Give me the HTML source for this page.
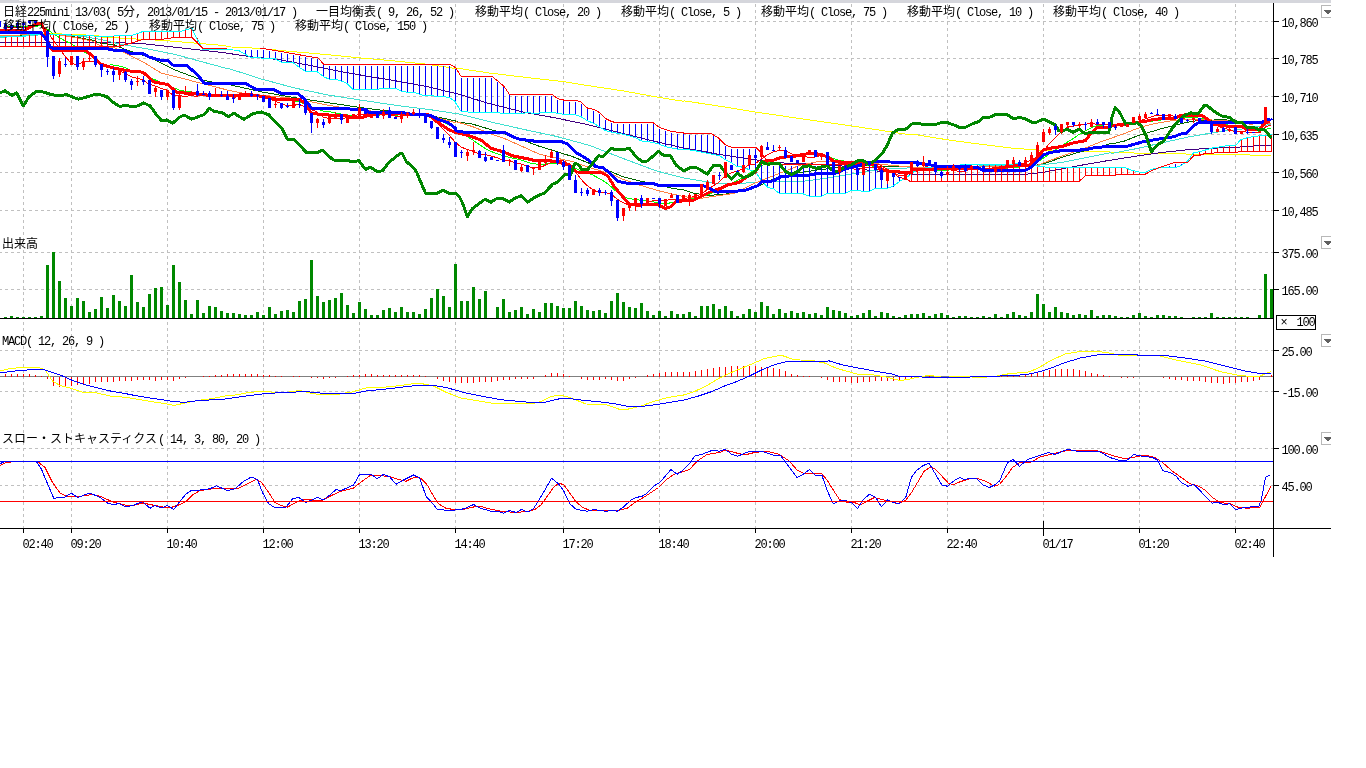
<!DOCTYPE html><html><head><meta charset="utf-8"><title>Nikkei 225 mini chart</title><style>html,body{margin:0;padding:0;background:#fff;width:1366px;height:768px;overflow:hidden}svg{display:block;position:absolute;left:0;top:0;will-change:transform}.t{font-family:"Liberation Mono",monospace;font-size:12px;letter-spacing:-1.2px;white-space:pre}.j{font-family:"Liberation Mono","Noto Sans CJK JP",monospace;letter-spacing:0}</style></head><body><svg width="1366" height="768" viewBox="0 0 1366 768" shape-rendering="crispEdges">
<rect x="0" y="0" width="1331" height="3" fill="#d5d6dc"/><rect x="19" y="0" width="81" height="1" fill="#f3f3f5"/>
<g stroke="#c0c0c0" stroke-width="1" stroke-dasharray="3 3" fill="none">
<path d="M-1 21.5H1273"/>
<path d="M-1 58.5H1273"/>
<path d="M-1 96.5H1273"/>
<path d="M-1 134.5H1273"/>
<path d="M-1 172.5H1273"/>
<path d="M-1 210.5H1273"/>
<path d="M-1 252.5H1273"/>
<path d="M-1 289.5H1273"/>
<path d="M-1 350.5H1273"/>
<path d="M-1 391.5H1273"/>
<path d="M-1 448.5H1273"/>
<path d="M-1 485.5H1273"/>
<path d="M23.5 4V528"/>
<path d="M71.5 4V528"/>
<path d="M167.5 4V528"/>
<path d="M263.5 4V528"/>
<path d="M359.5 4V528"/>
<path d="M455.5 4V528"/>
<path d="M563.5 4V528"/>
<path d="M659.5 4V528"/>
<path d="M755.5 4V528"/>
<path d="M851.5 4V528"/>
<path d="M947.5 4V528"/>
<path d="M1043.5 4V528"/>
<path d="M1139.5 4V528"/>
<path d="M1235.5 4V528"/>
</g>
<polyline points="0,33 50,33.5 67,34.2 98,35.5 100,36.9 131,38.75 162.5,40.4 194,43 225,45.6 228,46.83 261.33,48.5 294.67,51.83 328,54.67 361.33,58 394.67,61 428,64.33 455.67,68.5 456,68 489.33,73 522.67,77 563.5,81.67 589.33,85.83 622.67,90.83 659.33,97.5 683.67,101.33 684,100.83 717.33,105.83 755.33,112 800.67,118.67 851.17,125.83 884,130.83 911.67,135 912,134 947.5,139.83 978.67,144 1012,148.17 1043.33,150.33 1078.67,151 1110.33,152 1112,152.25 1130.75,152.5 1137,153.5 1184.5,153.5 1187,154.5 1249.5,154.5 1250.75,155.38 1270.75,155.38" fill="none" stroke="#ff0" stroke-width="1" />
<polyline points="0,42.5 100,42.5 125,43 144,43.75 175,47.25 200,50 225,52.75 228,53.33 251.33,56.83 278,59.5 311.33,65.67 344.67,72.33 371.33,76.83 394.67,80.67 428,86.83 455.67,93.5 456,93.33 489.33,103.67 522.67,112 556,118 589.33,125 622.67,133.33 656,141.67 683.67,148 684,148.33 700.67,150.83 717.33,154.17 734,156.67 750.67,159.17 762.33,160.83 784,163 817.33,164.17 850.67,166.67 867.33,170 884,171.67 910.67,174.17 912,174.83 962,174.83 1020.33,174.83 1043.33,172.33 1078.67,165.67 1110.33,160.17 1112,160 1137,156 1162,152.5 1187,149.75 1212,148.25 1237,147.25 1262,145.38 1272,145" fill="none" stroke="#400080" stroke-width="1" />
<polyline points="0,36 53,34.2 75,37 92,40 100,43.1 114,44.75 125,49.4 150,57.5 175,70 200,79.4 225,85 228,84.33 261.33,91.83 294.67,97.67 328,102.67 361.33,107.67 394.67,111.83 428,115.17 444.67,118.5 455.67,121 456,121.67 472.67,124.17 489.33,129.17 506,134.17 522.67,140 539.33,146.33 556,151.33 572.67,156.67 589.33,163.33 606,170 611,171.67 622.67,176.67 639.33,180.83 656,184.17 672.67,188.33 683.67,190 694,193.33 709,195.33 725.67,194.17 742.33,190.83 755.67,187.5 767.33,181.67 777.33,177.5 800.67,172.5 817.33,170 834,168 850.67,166.67 867.33,165.83 884,166.17 910.67,167 912,167.33 1028.67,166.5 1043.33,164 1062,157.33 1078.67,152.33 1095.33,148.17 1110.33,143.67 1112,144.12 1124.5,141 1137,136 1149.5,132.25 1162,128.5 1174.5,125.38 1187,122.25 1199.5,120.38 1224.5,119.75 1249.5,122.25 1270.75,123.5" fill="none" stroke="#006400" stroke-width="1" />
<polyline points="0,37.5 53,34 83,36.4 100,39.4 114,42.7 125,45 150,49.4 175,54.4 200,61.25 225,68 228,68.33 261.33,79 294.67,88 328,95 361.33,100.17 394.67,105.17 428,109.33 455.67,113.5 456,113.33 489.33,121.67 522.67,129.17 556,136.33 589.33,145.33 622.67,158.33 656,170.83 683.7,178 700.67,180.83 717.33,183.33 734,184.17 750.67,182.5 764,181.67 784,182 804,181.17 825.67,178.33 851.17,174.17 867.33,171.33 884,169.17 910.67,167.83 912,168.17 978.67,166 1028.67,165.67 1043.33,164.83 1062,162.33 1078.67,159 1110.33,152.67 1112,153.5 1137,148.5 1162,142.88 1187,137.25 1212,132.88 1224.5,131 1237,129.75 1262,126 1270.75,124.12" fill="none" stroke="#40e0d0" stroke-width="1" />
<polyline points="5,26.4 11,26.7 17,26.95 23,26.85 29,26.52 35,26.19 41,25.79 47,28.87 53,33.87 59,37.3 65,40.91 71,43.61 77,47.45 83,51.05 89,54.59 95,58.79 101,63.57 107,65.05 113,64.95 119,65.95 125,67.43 131,70.33 137,71.71 143,73.78 149,77.38 155,79.74 161,82.43 167,84.23 173,87.57 179,89.94 185,91.19 191,91.88 197,93.32 203,94.63 209,94.9 215,95.44 221,95.42 227,96.42 233,95.53 239,95.53 245,95.65 251,96.03 257,96.15 263,96.92 269,97.99 275,98.96 281,100.08 287,100.85 293,100.93 299,101.91 305,103.8 311,106.51 317,108.82 323,111.08 329,111.68 335,112.77 341,114.02 347,114.88 353,116.3 359,116.67 365,116.75 371,115.83 377,115.67 383,114.33 389,114.75 395,115.25 401,114.67 407,114.37 413,114.12 419,114.7 425,115.62 431,117.03 437,119.2 443,122.03 449,124.78 455,128.58 461,132.45 467,136.32 473,140.13 479,144.45 485,148.27 491,151.5 497,153.6 503,155.83 509,157.3 515,158.6 521,159.97 527,162.05 533,163.87 539,164.2 545,164.03 551,163.2 557,163.5 563,163.92 569,165.93 575,168.23 581,170.87 587,173.03 593,175.13 599,178.38 605,181.77 611,186.68 617,192.18 623,196.35 629,198.77 635,199.27 641,200.38 647,200.8 653,201.75 659,202.83 665,203.45 671,202.87 677,201.37 683,200.03 689,199.12 695,198.7 701,196.7 707,195.03 713,192.67 719,189.88 725,186.17 731,183.67 737,180.5 743,177.53 749,173.55 755,169.91 761,166.14 767,163.03 773,160.57 779,157.65 785,157.23 791,156.44 797,155.55 803,154.36 809,153.86 815,153.8 821,154.61 827,156.09 833,158.31 839,160.25 845,161.25 851,161.79 857,163.04 863,163.97 869,165.41 875,166.72 881,169.29 887,169.97 893,170.41 899,171.6 905,172.04 911,171.52 917,170.56 923,170.52 929,170.46 935,170.67 941,170.29 947,170.31 953,169.25 959,168.35 965,168.2 971,168.62 977,168.95 983,169.95 989,170.7 995,170.2 1001,169.28 1007,168.08 1013,167.42 1019,167.13 1025,166.05 1031,164.88 1037,162.47 1043,158.43 1049,154.15 1055,150.4 1061,146.07 1067,142.27 1073,138.77 1079,134.52 1085,131.07 1091,127.82 1097,125.73 1103,125.02 1109,124.92 1115,124.7 1121,124.71 1127,124.83 1133,124.07 1139,123.27 1145,122.08 1151,121.26 1157,120.34 1163,119.8 1169,118.45 1175,117.6 1181,117.47 1187,117.25 1193,117.38 1199,118.12 1205,119.19 1211,121 1217,122.44 1223,123.71 1229,125.28 1235,126.81 1241,127.69 1247,128.82 1253,130.22 1259,131.07 1265,129.39 1271,128.16" fill="none" stroke="#0f0" stroke-width="1" />
<polyline points="5,26.8 11,27.4 17,27.9 23,27.7 29,26.84 35,25.58 41,24.18 47,29.85 53,40.05 59,47.76 65,56.25 71,63.05 77,65.05 83,62.05 89,61.42 95,61.33 101,64.08 107,65.05 113,67.85 119,70.48 125,73.53 131,76.58 137,78.38 143,79.7 149,84.28 155,85.95 161,88.28 167,90.09 173,95.43 179,95.6 185,96.43 191,95.47 197,96.54 203,93.83 209,94.2 215,94.45 221,95.38 227,96.3 233,97.22 239,96.85 245,96.85 251,96.67 257,96 263,96.62 269,99.12 275,101.08 281,103.48 287,105.7 293,105.23 299,104.7 305,106.53 311,109.53 317,111.93 323,116.93 329,118.67 335,119 341,118.5 347,117.83 353,115.67 359,114.67 365,114.5 371,113.17 377,113.5 383,113 389,114.83 395,116 401,116.17 407,115.23 413,115.23 419,114.57 425,115.23 431,117.9 437,123.17 443,128.83 449,135 455,141.93 461,147 467,149.47 473,151.43 479,153.9 485,154.6 491,156 497,157.73 503,160.23 509,160.7 515,162.6 521,163.93 527,166.37 533,167.5 539,167.7 545,165.47 551,162.47 557,160.63 563,160.33 569,164.17 575,171 581,179.27 587,185.43 593,189.93 599,192.6 605,192.53 611,194.1 617,198.93 623,202.77 629,204.93 635,206 641,206.67 647,202.67 653,200.73 659,200.73 665,200.9 671,199.07 677,200.07 683,199.33 689,197.5 695,196.5 701,194.33 707,190 713,186 719,182.27 725,175.83 731,173 737,171 743,169.05 749,164.83 755,163.98 761,159.28 767,155.05 773,152.1 779,150.47 785,150.47 791,153.6 797,156.05 803,156.62 809,157.25 815,157.12 821,155.62 827,156.12 833,160 839,163.25 845,165.38 851,167.95 857,169.95 863,167.95 869,167.57 875,168.07 881,170.62 887,170 893,172.88 899,175.62 905,176 911,172.42 917,171.12 923,168.17 929,165.29 935,165.33 941,168.17 947,169.5 953,170.33 959,171.4 965,171.07 971,169.07 977,168.4 983,169.57 989,170 995,169.33 1001,169.5 1007,167.77 1013,165.27 1019,164.27 1025,162.77 1031,160.27 1037,157.17 1043,151.6 1049,144.03 1055,138.03 1061,131.87 1067,127.37 1073,125.93 1079,125 1085,124.1 1091,123.77 1097,124.1 1103,124.1 1109,124.83 1115,125.29 1121,125.65 1127,125.55 1133,124.03 1139,121.7 1145,118.88 1151,116.88 1157,115.12 1163,115.58 1169,115.2 1175,116.33 1181,118.08 1187,119.38 1193,119.17 1199,121.05 1205,122.05 1211,123.92 1217,125.5 1223,128.25 1229,129.5 1235,131.57 1241,131.45 1247,132.15 1253,132.2 1259,132.65 1265,127.2 1271,124.88" fill="none" stroke="#f00" stroke-width="1" />
<polyline points="0,35.6 53,34 75,37.7 92,41 100,45.6 114,47.7 125,53 144,62.5 161,73 181,78 200,83 225,89.4 228,90.17 244.67,93.5 261.33,95.17 294.67,98.5 311.33,101.83 328,105.17 344.67,108 361.33,110.17 394.67,113 428,115.17 455.67,122.67 456,121.67 472.67,126.67 489.33,133.33 506,139.17 522.67,146.67 539.33,154.17 556,158 572.67,161.67 589.33,167.5 606,172.5 612.67,174.17 622.67,179.17 639.33,185 656,190 669.33,193.33 683.67,196.67 700.67,198.33 717.33,195.83 734,193.33 750.67,185 762.33,180 777.33,174.17 800.67,165 817.33,161.67 834,161.67 850.67,162.5 867.33,162.5 884,164.67 910.67,167 912,167.33 1028.67,166.5 1038.67,164.83 1053.67,159 1070.33,153.17 1087,147.33 1103.67,140.67 1111.17,138.17 1112,137.88 1124.5,133.5 1137,128.5 1149.5,124.75 1162,122.25 1174.5,120.38 1187,119.75 1212,120 1237,121.62 1249.5,124.12 1270.75,123.5" fill="none" stroke="#ff8040" stroke-width="1" />
<path d="M5.5 36V47M11.5 36V47M17.5 36V47M23.5 36V47M29.5 34V47M35.5 34V47M41.5 34V47M47.5 34V47M53.5 34V47M59.5 34V47M65.5 34V47M71.5 34V47M77.5 35V47M83.5 35V47M89.5 35V47M95.5 36V47M101.5 36V47M107.5 36V47M113.5 36V47M119.5 35V47M125.5 35V45M131.5 35V44M137.5 33V42M143.5 31V40M149.5 31V40M155.5 31V40M161.5 31V40M167.5 31V39M173.5 31V38M179.5 31V38M185.5 30V38M191.5 28V38M197.5 38V43M911.5 173V182M917.5 170V182M923.5 168V182M929.5 167V182M935.5 166V182M941.5 165V182M947.5 165V182M953.5 165V182M959.5 165V182M965.5 164V182M971.5 164V182M977.5 164V182M983.5 164V182M989.5 164V182M995.5 164V182M1001.5 164V182M1007.5 164V182M1013.5 164V182M1019.5 163V182M1025.5 164V182M1031.5 165V182M1037.5 166V182M1043.5 166V182M1049.5 167V182M1055.5 167V182M1061.5 167V182M1067.5 167V182M1073.5 167V182M1079.5 167V182M1085.5 167V176M1091.5 167V176M1097.5 167V176M1103.5 167V176M1109.5 167V176M1115.5 167V176M1121.5 167V175M1127.5 168V175M1133.5 170V175M1139.5 172V175M1145.5 172V175M1193.5 153V157M1199.5 151V156M1205.5 150V154M1211.5 148V154M1217.5 147V153M1223.5 146V153M1229.5 145V153M1235.5 145V153M1241.5 139V152M1247.5 137V152M1253.5 136V152M1259.5 135V152M1265.5 135V152M1271.5 134V152" stroke="#f00" stroke-width="1" fill="none"/>
<path d="M245.5 50V55M251.5 50V58M257.5 50V58M263.5 50V59M269.5 51V59M275.5 52V59M281.5 53V63M287.5 54V63M293.5 55V63M299.5 56V68M305.5 57V72M311.5 58V72M317.5 59V72M323.5 65V77M329.5 66V80M335.5 66V80M341.5 66V81M347.5 66V84M353.5 66V90M359.5 66V90M365.5 66V90M371.5 66V90M377.5 66V90M383.5 66V89M389.5 66V89M395.5 66V89M401.5 66V91M407.5 66V93M413.5 66V93M419.5 66V95M425.5 66V96M431.5 66V96M437.5 66V97M443.5 66V97M449.5 66V98M455.5 69V102M461.5 78V112M467.5 78V112M473.5 78V113M479.5 78V113M485.5 78V113M491.5 78V113M497.5 82V113M503.5 87V114M509.5 95V114M515.5 96V114M521.5 96V114M527.5 96V113M533.5 96V114M539.5 96V114M545.5 96V113M551.5 96V113M557.5 100V114M563.5 101V115M569.5 102V115M575.5 102V115M581.5 104V117M587.5 109V121M593.5 111V124M599.5 114V127M605.5 120V131M611.5 123V132M617.5 124V134M623.5 124V135M629.5 124V136M635.5 124V138M641.5 124V141M647.5 124V142M653.5 124V143M659.5 129V145M665.5 131V147M671.5 133V148M677.5 134V150M683.5 134V150M689.5 135V150M695.5 135V151M701.5 135V152M707.5 135V154M713.5 136V155M719.5 140V156M725.5 146V160M731.5 149V163M737.5 149V167M743.5 149V168M749.5 149V170M755.5 149V172M761.5 154V180M767.5 163V187M773.5 166V189M779.5 166V194M785.5 166V194M791.5 166V194M797.5 166V194M803.5 166V194M809.5 166V197M815.5 166V197M821.5 166V197M827.5 166V194M833.5 166V194M839.5 166V194M845.5 166V194M851.5 166V191M857.5 166V191M863.5 166V192M869.5 166V192M875.5 166V189M881.5 167V189M887.5 171V189M893.5 174V187M899.5 179V182M1169.5 166V168M1175.5 164V168M1181.5 164V166" stroke="#00f" stroke-width="1" fill="none"/>
<polyline points="0,37 25,36.5 28,34 55,34.3 100,36.25 114,36 131.25,35.6 143,31.5 180,31.5 192,28.1 195,35 203,49.4 228,49.8 238,50.17 251.33,57.67 274.67,58.5 281.33,62.33 293,62.67 299.67,67.67 305.5,71.33 317.17,71.83 323.83,76.83 329.67,79.33 335.5,79.33 341.33,81 347.17,83.5 353,89.33 359.67,89.67 371.33,89.67 378,89.33 383,88.17 394.67,88.17 401.33,91 407.17,92.17 413,92.17 419.67,94.33 424.67,95.67 443,96.33 449.67,97.67 455.67,101.83 456,103.33 461,111.33 472.67,112.5 497.67,112.5 504.33,113.83 521,113.83 527.67,112.5 533.5,113.33 539.33,113 545.17,112 551.83,112 557.67,113.33 563.5,114.17 575.17,114.67 581,116.67 587.67,120.83 593.5,123.33 599.33,126.67 605.17,130.5 611.83,132.17 622.67,134.17 635.17,137.5 641,140.83 653.5,142.5 659.33,144.17 665.17,146.67 677.67,149.17 683.67,150 684,149.17 695.67,150.83 707.33,153.33 719.83,155.83 725.67,160 732.33,163.33 737.33,166.67 740,166.5 747.5,169 755.62,172.12 761.25,180.25 767.5,187.12 773.75,189 779.38,193.38 802.5,193.62 809.38,196.25 821.25,196.25 827.5,193.38 845.62,193.38 851.25,190.25 857.5,190.25 863.12,191.5 869.38,191.5 875,188.38 887.5,188.38 893.5,185.88 899.38,181.5 905,178.38 910.75,174.62 911.25,173.12 917.5,170 927.5,167.5 947.5,165.25 980,164.62 1005,165 1017.5,163.75 1030,165 1042.5,166.88 1045.33,167 1078.67,167 1108.67,167 1110,167.4 1124,167.4 1127.8,168.8 1133.4,170.7 1139,172.1 1145.6,172.1 1151.2,169.3 1156.9,168.3 1162.5,167.4 1175.6,167.4 1180.3,166 1187.8,160.8 1193.4,152.9 1200,151.5 1205.6,150 1211.2,148.2 1217.8,147.2 1229,145.4 1235.6,145.4 1240.75,139.75 1247,137.88 1253.25,136.38 1262,135.75 1272,134.5" fill="none" stroke="#0ff" stroke-width="1" />
<polyline points="0,46.8 118.75,46.5 131.25,43.1 143,39.4 162.5,39.4 165,38.75 175,37.5 192,37.5 203,48.5 228,48 259.67,48 278,51 294.67,54 318,58 323.83,64.33 449.67,64.33 455.67,67.67 456,68.33 461,76.33 491.83,76.33 497.67,80.83 504.33,86.67 509.33,94.17 551.83,94.17 557.67,98.67 563.5,100 575.17,100 581,102 587.67,108.33 593.5,109.17 599.33,112.5 605.17,118.33 611.83,121.67 616,122.5 653.5,123 659.33,127.5 671,131.33 683.67,133 684,133.33 710.67,133.33 719,138.33 725.67,145 732.33,147.5 754.83,147.5 755.6,147.1 760.6,152.1 765,157.75 768,164 878,164 885,168 893,172.5 899,177.5 905,178.5 910,181.25 1079.5,181.2 1085.3,175.5 1115.6,175.4 1116,174.2 1145.6,174.2 1151.2,170.7 1162.5,166.5 1173.7,162.7 1187.8,162.2 1193.4,156.1 1200,155.2 1205.6,153.3 1213,153.3 1215,152.4 1237,152.3 1242,151.25 1272,151.25" fill="none" stroke="#f00" stroke-width="1" />
<polyline points="0,30 25,30 31,27 36.5,23.8 41.5,24 44,29 46.7,36.8 50,47 53,50.5 86,50.5 93,56.7 100,63.5 104,65.3 112.5,67.8 127.5,70.8 143,72.2 154,82 167.5,84.5 177.5,92.5 200,94.3 212,95.6 228,95.8 248,94.33 264.67,96.83 278,99.33 299.67,99.33 306.33,104.33 311.33,113.5 331.33,115.17 344.67,115.17 351.33,117.67 361.33,117.67 369.67,115.17 378,113.5 428,114.33 436.33,121 448,129.33 455.67,132.67 456,132.5 469.33,135.83 481,140 491,148.33 502.67,151.67 512.67,155.83 529.33,159.17 536,160.83 549.33,160.5 556,161.67 569.33,165 576,171.67 576.83,172 601,172.5 607.67,175.83 614.33,186.67 622.67,196.67 629.33,204.17 658.5,205 665.17,208.33 671,206.67 676,201.67 683.67,200.83 684,200.83 694,200 702.33,195.83 710.67,191.67 720.67,188.33 727.33,185 739,182.5 747.33,176.67 755.67,171.67 761.5,161.67 774,160 780.67,157.5 797.33,155.83 804,154.17 814,153.33 822.33,155 829,157.5 834,161.67 851.17,162.5 865.67,162.5 874,165 884,170 892.33,171.67 911.67,172.5 912,169.83 928.67,169.83 937,168.67 978.67,168.67 987,169.83 1005.33,167 1015.33,165.67 1028.67,165.33 1035.33,159.83 1043.67,149.83 1050.33,148.17 1062,146.5 1072,143.17 1085.33,140.67 1090.33,134 1097,127.33 1110.33,127 1112,125.67 1128.25,123.5 1137,122.25 1147,121 1154.5,119.12 1174.5,118.5 1179.5,116 1184.5,115 1202,115.75 1205.75,117.88 1209.5,121 1212,124.12 1222,125.38 1229.5,126.62 1242,126.62 1247,129.75 1259.5,129.75 1262,126 1265.75,122.25 1270.12,121.62" fill="none" stroke="#f00" stroke-width="3" stroke-linejoin="round" stroke-linecap="butt"/>
<polyline points="0,32.9 41,32.9 46,39 50,46.5 53,48.3 106,48.3 112.5,50 125,50.5 130,53.5 143,53.5 149,57 155,58.75 160,60 167.5,60 172.5,65 186,65 195,72.5 200,78 204,83 228,83 244.67,83.17 256.33,89.33 273,89.33 281.33,93.5 298,93.5 304.67,99.33 311.33,108 344.67,108 351.33,109.33 364.67,109.33 369.67,112.67 404.67,113 411.33,114.33 429.67,115.17 438,119.33 448,122.67 455.67,128.5 456,130.83 466,132.5 506,133 512.67,136.67 519.33,139.17 536,141.33 562.67,142 567.67,144.17 576,152.5 586,158.33 594.33,165 595.17,166.67 602.67,167.5 611,174.17 617.67,181.33 627.67,183.33 652.67,183.33 658.5,185.33 683.67,185.33 684,185.33 702.33,185.33 709,188.33 717.33,192.17 727.33,191.33 744,190.83 750.67,188.33 757.33,185.83 762.33,181.67 774,180.83 780.67,176.67 790.67,175.83 810.67,175 817.33,173.33 837.33,173 844,169.17 851.17,167.5 860.67,165 867.33,162.5 875.67,161.67 911.67,162.5 912,162.33 917,162.33 922,164 930.33,164.83 935.33,166.5 945.33,166.83 962,166.5 977,167.33 983.67,170.33 1025.33,170.33 1031.17,167.33 1037,161.5 1043.67,154.83 1050.33,152.33 1062,150.67 1085.33,149.83 1092,148.17 1102,147 1112,146.67 1128.25,146 1137,143.5 1143.25,141.62 1162,138.5 1174.5,136.62 1180.12,134.12 1186.38,133.5 1193.25,126 1198.25,122.88 1262,122.5 1265.75,120.38 1270.12,119.12" fill="none" stroke="#00f" stroke-width="3" stroke-linejoin="round" stroke-linecap="butt"/>
<polyline points="0,92.83 5,90.83 11.67,95.33 16.67,92.83 23.33,105.83 29.17,96.67 35.83,91.67 43.33,92 50,94.17 58.33,95.83 66.67,94.67 71.67,96.67 78.33,99.17 85,97.5 93.33,95 100,94.67 106.67,96.67 113.33,102.5 120,106.67 125,105 131.67,106.67 138.33,105.83 143.33,102.83 150,105.83 156.67,115 161.67,120.83 166.67,120 172.5,123.33 179.17,117.5 184.17,115 191.67,119.17 198.33,116.67 204.17,114.67 209.17,108.33 215,111.67 221.67,112.5 227.67,116.17 228,117 233.83,113.17 243.83,119.33 253,113.67 261.33,112 268.83,114.83 275.5,122.33 282.17,129 287.17,139 293.83,139.33 306.33,152.33 318,152.33 322.17,150.17 332.17,159 334.67,160.33 348,160.33 352.17,162 358.83,160.67 365.5,169.33 370.5,167.33 378,172 383,170.33 388.83,162.33 400.5,153.17 402.17,153.5 406.33,161.5 413.83,168.17 416.33,171.5 425.5,193.17 437.17,193.17 443,190.33 448.83,193.17 455.67,194 456,193.33 459.33,196.67 462.67,203.33 467.33,216.67 472.67,208.33 479.33,203.33 485.17,199.17 491,202.17 497.67,198 502.67,198.33 509.33,202.17 515.17,198 521,195.83 527.67,202.17 536,196.67 544.33,193 552.67,184.17 557.67,182 564.33,175 571,174.17 574.67,163.67 577.67,164.17 582.67,170 587.67,169.67 598.5,155.83 603.5,156.33 611,148.67 621,150 629.33,148.33 636,156.67 642.67,162 647.67,160.83 658.5,151.33 664.33,155.83 670.17,155.33 676,165 683.67,170.83 684,170.83 690.67,167.5 697.33,168 707.33,174.17 713.17,165.83 719.83,165 725.67,173.33 731.5,179.17 737.33,173.33 743.17,177.5 749.83,175.83 755.67,170.83 761.5,161.67 767.33,164.17 779,163.33 785.67,171.67 791.5,174.67 797.33,171.67 803.17,166.67 809,165.83 815.67,168.33 822.33,166.67 827.33,165.83 834,171.67 839,170.83 845.67,166.67 851.17,165 857.33,160.83 863.17,160.83 869,164.17 875.67,160 882.33,153.33 887.33,145 892.33,133.33 897.33,130 905.67,129.17 911.67,124.17 912,124 917,123.17 923.67,124.5 935.33,124.5 942,122.33 947.83,122.83 953.67,124.83 960.33,127.67 965.33,127.33 972,124 978.67,121.5 983.67,117.33 990.33,117 995.33,114.5 1007,114.5 1013.67,119 1019.5,117.33 1025.33,119 1031.17,122 1037,122 1043.33,119 1049.5,122 1055.33,124.83 1058.67,130.67 1062,131.5 1067,129 1072.83,132.33 1079.17,129.33 1085.33,133.67 1091.17,132.33 1108.67,132.33 1111.17,124 1112,117.25 1115.12,107.88 1119.5,112.25 1125.75,124.12 1137,122.88 1140.75,125.38 1145.75,134.75 1151.38,151.62 1158.25,144.12 1163.25,141.62 1169.5,132.25 1177,122.25 1183.25,116 1190.75,112.88 1198.25,113.5 1204.5,105.38 1207,105.38 1212,109.75 1218.25,114.12 1223.25,116.62 1229.5,117.25 1235.75,122.25 1242,122.88 1247,127.25 1254.5,127.88 1259.5,129.75 1264.5,129.75 1268.25,134.12 1271.38,138.5" fill="none" stroke="#008600" stroke-width="3" stroke-linejoin="round" stroke-linecap="butt"/>
<path d="M41.5 21V25M59.5 58V77M71.5 56V65M83.5 58V70M89.5 56V61M119.5 71V80M137.5 76V86M155.5 86V97M167.5 90V100M179.5 94V110M185.5 86V95M191.5 91V95M215.5 88V96M239.5 95V100M245.5 91V97M275.5 99V108M293.5 100V108M317.5 118V128M329.5 114V124M335.5 112V118M347.5 116V123M353.5 114V119M359.5 104V119M371.5 114V118M383.5 109V119M401.5 112V123M407.5 112V118M413.5 109V115M467.5 150V161M473.5 142V155M509.5 159V166M521.5 165V172M533.5 168V175M539.5 161V170M545.5 155V165M551.5 150V158M593.5 189V195M623.5 208V221M629.5 204V211M635.5 198V211M647.5 198V203M665.5 199V206M671.5 193V198M683.5 195V200M689.5 193V206M695.5 194V200M701.5 184V197M707.5 180V190M713.5 175V184M725.5 162V178M743.5 165V173M749.5 155V165M761.5 145V159M779.5 145V150M803.5 153V162M809.5 150V153M821.5 153V160M839.5 166V175M863.5 163V175M887.5 172V184M905.5 172V180M911.5 162V172M923.5 156V167M947.5 166V176M953.5 164V171M971.5 166V170M995.5 166V172M1001.5 165V171M1007.5 160V167M1013.5 157V164M1025.5 157V166M1031.5 152V164M1037.5 142V157M1043.5 129V142M1049.5 127V135M1061.5 124V134M1067.5 122V128M1079.5 122V128M1091.5 119V127M1121.5 124V127M1127.5 124V127M1133.5 117V123M1139.5 114V120M1145.5 112V118M1169.5 114V119M1193.5 115V123M1217.5 127V132M1229.5 128V132M1241.5 132V134M1259.5 132V133M1265.5 107V124" stroke="#f00" stroke-width="1" fill="none"/>
<path d="M40 22h3V24h-3zM58 61h3V74h-3zM70 56h3V65h-3zM82 61h3V67h-3zM88 58h3V59h-3zM118 71h3V75h-3zM136 81h3V82h-3zM154 88h3V92h-3zM166 90h3V97h-3zM178 95h3V108h-3zM184 92h3V94h-3zM190 92h3V95h-3zM214 94h3V96h-3zM238 95h3V100h-3zM244 94h3V96h-3zM274 104h3V105h-3zM292 100h3V108h-3zM316 119h3V123h-3zM328 114h3V123h-3zM334 114h3V118h-3zM346 116h3V123h-3zM352 114h3V119h-3zM358 108h3V118h-3zM370 114h3V118h-3zM382 112h3V116h-3zM400 114h3V119h-3zM406 113h3V116h-3zM412 112h3V114h-3zM466 152h3V156h-3zM472 150h3V152h-3zM508 160h3V161h-3zM520 167h3V171h-3zM532 168h3V169h-3zM538 161h3V170h-3zM544 159h3V163h-3zM550 152h3V158h-3zM592 189h3V195h-3zM622 208h3V216h-3zM628 204h3V208h-3zM634 198h3V206h-3zM646 198h3V203h-3zM664 199h3V206h-3zM670 195h3V198h-3zM682 195h3V200h-3zM688 195h3V202h-3zM694 194h3V200h-3zM700 184h3V197h-3zM706 182h3V190h-3zM712 175h3V184h-3zM724 162h3V178h-3zM742 165h3V172h-3zM748 155h3V165h-3zM760 146h3V157h-3zM778 147h3V148h-3zM802 153h3V162h-3zM808 150h3V153h-3zM820 155h3V157h-3zM838 166h3V172h-3zM862 163h3V175h-3zM886 172h3V181h-3zM904 172h3V180h-3zM910 162h3V172h-3zM922 162h3V166h-3zM946 172h3V175h-3zM952 166h3V169h-3zM970 166h3V170h-3zM994 167h3V172h-3zM1000 167h3V169h-3zM1006 160h3V167h-3zM1012 160h3V164h-3zM1024 160h3V166h-3zM1030 155h3V164h-3zM1036 145h3V157h-3zM1042 132h3V142h-3zM1048 129h3V133h-3zM1060 124h3V132h-3zM1066 122h3V125h-3zM1078 124h3V126h-3zM1090 122h3V127h-3zM1120 124h3V127h-3zM1126 124h3V127h-3zM1132 117h3V123h-3zM1138 116h3V120h-3zM1144 114h3V118h-3zM1168 114h3V119h-3zM1192 118h3V120h-3zM1216 129h3V132h-3zM1228 130h3V131h-3zM1240 132h3V134h-3zM1258 132h3V133h-3zM1264 107h3V124h-3z" fill="#f00"/>
<path d="M-0.5 21V27M5.5 22V30M11.5 24V30M17.5 22V29M23.5 21V30M29.5 21V24M35.5 21V24M47.5 31V67M53.5 56V79M65.5 58V67M77.5 56V70M95.5 56V67M101.5 64V77M107.5 69V75M113.5 68V82M125.5 71V82M131.5 79V90M143.5 76V85M149.5 80V94M161.5 90V100M173.5 90V110M197.5 84V96M203.5 91V95M209.5 91V100M221.5 91V97M227.5 91V100M233.5 94V103M251.5 91V97M257.5 94V100M263.5 96V102M269.5 98V108M281.5 103V109M287.5 103V108M299.5 99V108M305.5 102V115M311.5 113V133M323.5 119V128M341.5 114V124M365.5 108V114M377.5 114V118M389.5 107V118M395.5 117V119M419.5 109V118M425.5 114V123M431.5 121V129M437.5 127V139M443.5 134V143M449.5 137V148M455.5 142V157M461.5 150V158M479.5 150V158M485.5 152V162M491.5 157V160M497.5 160V161M503.5 145V162M515.5 160V170M527.5 165V172M557.5 152V165M563.5 160V170M569.5 165V180M575.5 175V193M581.5 188V196M587.5 188V196M599.5 188V196M605.5 190V195M611.5 190V206M617.5 200V221M641.5 195V208M653.5 198V199M659.5 198V208M677.5 195V203M719.5 172V180M731.5 165V170M737.5 170V172M755.5 150V158M767.5 142V150M773.5 145V151M785.5 147V158M791.5 156V162M797.5 160V163M815.5 150V157M827.5 152V165M833.5 162V173M845.5 165V169M851.5 166V168M857.5 168V175M869.5 162V165M875.5 164V170M881.5 168V180M893.5 173V177M899.5 177V179M917.5 160V167M929.5 160V164M935.5 162V175M941.5 171V178M959.5 166V172M965.5 164V172M977.5 166V169M983.5 166V172M989.5 169V172M1019.5 160V166M1055.5 124V135M1073.5 122V127M1085.5 122V130M1097.5 119V125M1103.5 122V128M1109.5 122V128M1115.5 125V130M1151.5 112V114M1157.5 109V115M1163.5 114V120M1175.5 114V119M1181.5 118V123M1187.5 119V122M1199.5 118V124M1205.5 120V124M1211.5 124V134M1223.5 127V132M1235.5 127V134M1247.5 129V134M1253.5 132V133M1271.5 118V120" stroke="#00f" stroke-width="1" fill="none"/>
<path d="M-2 21h3V27h-3zM4 24h3V29h-3zM10 25h3V29h-3zM16 23h3V28h-3zM22 23h3V25h-3zM28 21h3V23h-3zM34 21h3V23h-3zM46 31h3V57h-3zM52 56h3V76h-3zM64 64h3V65h-3zM76 56h3V67h-3zM94 56h3V65h-3zM100 64h3V70h-3zM106 71h3V72h-3zM112 71h3V75h-3zM124 72h3V80h-3zM130 81h3V85h-3zM142 80h3V82h-3zM148 80h3V94h-3zM160 90h3V97h-3zM172 90h3V108h-3zM196 91h3V95h-3zM202 94h3V95h-3zM208 93h3V97h-3zM220 95h3V96h-3zM226 96h3V100h-3zM232 98h3V99h-3zM250 94h3V96h-3zM256 95h3V96h-3zM262 96h3V102h-3zM268 98h3V108h-3zM280 103h3V108h-3zM286 106h3V107h-3zM298 104h3V105h-3zM304 102h3V113h-3zM310 113h3V123h-3zM322 122h3V125h-3zM340 114h3V120h-3zM364 108h3V114h-3zM376 114h3V118h-3zM388 110h3V118h-3zM394 117h3V119h-3zM418 113h3V114h-3zM424 114h3V123h-3zM430 121h3V128h-3zM436 127h3V139h-3zM442 138h3V140h-3zM448 142h3V145h-3zM454 142h3V157h-3zM460 152h3V153h-3zM478 151h3V158h-3zM484 157h3V161h-3zM490 157h3V160h-3zM496 160h3V161h-3zM502 150h3V162h-3zM514 160h3V170h-3zM526 165h3V172h-3zM556 152h3V163h-3zM562 162h3V167h-3zM568 165h3V180h-3zM574 180h3V193h-3zM580 192h3V193h-3zM586 190h3V194h-3zM598 190h3V193h-3zM604 192h3V193h-3zM610 192h3V201h-3zM616 200h3V218h-3zM640 198h3V204h-3zM652 198h3V199h-3zM658 198h3V204h-3zM676 195h3V203h-3zM718 175h3V176h-3zM730 165h3V170h-3zM736 171h3V172h-3zM754 155h3V158h-3zM766 147h3V150h-3zM772 150h3V151h-3zM784 150h3V158h-3zM790 156h3V162h-3zM796 160h3V163h-3zM814 150h3V157h-3zM826 152h3V165h-3zM832 162h3V173h-3zM844 166h3V168h-3zM850 167h3V168h-3zM856 168h3V175h-3zM868 162h3V165h-3zM874 164h3V170h-3zM880 170h3V180h-3zM892 173h3V177h-3zM898 177h3V178h-3zM916 162h3V166h-3zM928 160h3V164h-3zM934 162h3V172h-3zM940 172h3V176h-3zM958 168h3V169h-3zM964 167h3V171h-3zM976 166h3V169h-3zM982 166h3V172h-3zM988 169h3V172h-3zM1018 162h3V166h-3zM1054 126h3V130h-3zM1072 122h3V125h-3zM1084 124h3V125h-3zM1096 122h3V124h-3zM1102 122h3V125h-3zM1108 122h3V128h-3zM1114 127h3V128h-3zM1150 113h3V114h-3zM1156 114h3V115h-3zM1162 114h3V120h-3zM1174 116h3V119h-3zM1180 118h3V123h-3zM1186 120h3V121h-3zM1198 118h3V124h-3zM1204 120h3V124h-3zM1210 124h3V132h-3zM1222 128h3V132h-3zM1234 127h3V134h-3zM1246 132h3V133h-3zM1252 132h3V133h-3zM1270 119h3V120h-3z" fill="#00f"/>
<path d="M4 317h3V318h-3zM10 316h3V318h-3zM16 317h3V318h-3zM22 317h3V318h-3zM28 317h3V318h-3zM34 317h3V318h-3zM40 316h3V318h-3zM46 265h3V318h-3zM52 252h3V318h-3zM58 281h3V318h-3zM64 298h3V318h-3zM70 306h3V318h-3zM76 298h3V318h-3zM82 301h3V318h-3zM88 312h3V318h-3zM94 309h3V318h-3zM100 297h3V318h-3zM106 308h3V318h-3zM112 295h3V318h-3zM118 301h3V318h-3zM124 306h3V318h-3zM130 275h3V318h-3zM136 302h3V318h-3zM142 307h3V318h-3zM148 294h3V318h-3zM154 288h3V318h-3zM160 287h3V318h-3zM166 305h3V318h-3zM172 265h3V318h-3zM178 282h3V318h-3zM184 300h3V318h-3zM190 314h3V318h-3zM196 300h3V318h-3zM202 313h3V318h-3zM208 306h3V318h-3zM214 307h3V318h-3zM220 311h3V318h-3zM226 313h3V318h-3zM232 313h3V318h-3zM238 314h3V318h-3zM244 315h3V318h-3zM250 315h3V318h-3zM256 312h3V318h-3zM262 315h3V318h-3zM268 307h3V318h-3zM274 314h3V318h-3zM280 311h3V318h-3zM286 310h3V318h-3zM292 312h3V318h-3zM298 301h3V318h-3zM304 299h3V318h-3zM310 260h3V318h-3zM316 296h3V318h-3zM322 302h3V318h-3zM328 300h3V318h-3zM334 298h3V318h-3zM340 293h3V318h-3zM346 305h3V318h-3zM352 313h3V318h-3zM358 302h3V318h-3zM364 309h3V318h-3zM370 315h3V318h-3zM376 315h3V318h-3zM382 310h3V318h-3zM388 308h3V318h-3zM394 312h3V318h-3zM400 307h3V318h-3zM406 312h3V318h-3zM412 312h3V318h-3zM418 314h3V318h-3zM424 309h3V318h-3zM430 298h3V318h-3zM436 289h3V318h-3zM442 296h3V318h-3zM448 307h3V318h-3zM454 264h3V318h-3zM460 301h3V318h-3zM466 301h3V318h-3zM472 287h3V318h-3zM478 299h3V318h-3zM484 291h3V318h-3zM496 307h3V318h-3zM502 299h3V318h-3zM508 312h3V318h-3zM514 310h3V318h-3zM520 307h3V318h-3zM526 314h3V318h-3zM532 309h3V318h-3zM538 312h3V318h-3zM544 303h3V318h-3zM550 303h3V318h-3zM556 306h3V318h-3zM562 308h3V318h-3zM568 308h3V318h-3zM574 301h3V318h-3zM580 306h3V318h-3zM586 310h3V318h-3zM592 311h3V318h-3zM598 310h3V318h-3zM604 313h3V318h-3zM610 301h3V318h-3zM616 293h3V318h-3zM622 302h3V318h-3zM628 307h3V318h-3zM634 308h3V318h-3zM640 303h3V318h-3zM646 311h3V318h-3zM652 315h3V318h-3zM658 311h3V318h-3zM664 316h3V318h-3zM670 311h3V318h-3zM676 314h3V318h-3zM682 314h3V318h-3zM688 312h3V318h-3zM694 316h3V318h-3zM700 306h3V318h-3zM706 306h3V318h-3zM712 304h3V318h-3zM718 309h3V318h-3zM724 306h3V318h-3zM730 311h3V318h-3zM736 316h3V318h-3zM742 314h3V318h-3zM748 309h3V318h-3zM754 312h3V318h-3zM760 302h3V318h-3zM766 306h3V318h-3zM772 314h3V318h-3zM778 309h3V318h-3zM784 313h3V318h-3zM790 311h3V318h-3zM796 313h3V318h-3zM802 312h3V318h-3zM808 314h3V318h-3zM814 313h3V318h-3zM820 315h3V318h-3zM826 307h3V318h-3zM832 310h3V318h-3zM838 311h3V318h-3zM844 313h3V318h-3zM850 316h3V318h-3zM856 315h3V318h-3zM862 313h3V318h-3zM868 310h3V318h-3zM874 316h3V318h-3zM880 312h3V318h-3zM886 313h3V318h-3zM892 316h3V318h-3zM898 317h3V318h-3zM904 315h3V318h-3zM910 314h3V318h-3zM916 314h3V318h-3zM922 313h3V318h-3zM928 316h3V318h-3zM934 314h3V318h-3zM940 313h3V318h-3zM946 315h3V318h-3zM952 317h3V318h-3zM958 316h3V318h-3zM964 316h3V318h-3zM970 317h3V318h-3zM976 317h3V318h-3zM982 316h3V318h-3zM988 317h3V318h-3zM994 314h3V318h-3zM1000 317h3V318h-3zM1006 314h3V318h-3zM1012 312h3V318h-3zM1018 315h3V318h-3zM1024 316h3V318h-3zM1030 312h3V318h-3zM1036 294h3V318h-3zM1042 304h3V318h-3zM1048 312h3V318h-3zM1054 307h3V318h-3zM1060 312h3V318h-3zM1066 313h3V318h-3zM1072 315h3V318h-3zM1078 314h3V318h-3zM1084 315h3V318h-3zM1090 310h3V318h-3zM1096 316h3V318h-3zM1102 315h3V318h-3zM1108 315h3V318h-3zM1114 316h3V318h-3zM1120 317h3V318h-3zM1126 317h3V318h-3zM1132 315h3V318h-3zM1138 313h3V318h-3zM1144 316h3V318h-3zM1150 317h3V318h-3zM1156 315h3V318h-3zM1162 315h3V318h-3zM1168 316h3V318h-3zM1174 316h3V318h-3zM1180 317h3V318h-3zM1192 317h3V318h-3zM1198 317h3V318h-3zM1204 317h3V318h-3zM1210 313h3V318h-3zM1216 317h3V318h-3zM1222 317h3V318h-3zM1228 317h3V318h-3zM1234 317h3V318h-3zM1240 317h3V318h-3zM1246 317h3V318h-3zM1258 315h3V318h-3zM1264 274h3V318h-3zM1270 289h3V318h-3z" fill="#008800"/>
<path d="M0 376.5H1273" stroke="#808080" stroke-width="1" fill="none"/>
<path d="M5.5 376.5v-3M11.5 376.5v-3M17.5 376.5v-3M23.5 376.5v-3M29.5 376.5v-3M35.5 376.5v-2M41.5 376.5v-1M47.5 376.5v2M53.5 376.5v9M59.5 376.5v10M65.5 376.5v10M71.5 376.5v9M77.5 376.5v8M83.5 376.5v8M89.5 376.5v7M95.5 376.5v5M101.5 376.5v5M107.5 376.5v5M113.5 376.5v5M119.5 376.5v4M125.5 376.5v4M131.5 376.5v4M137.5 376.5v3M143.5 376.5v3M149.5 376.5v3M155.5 376.5v4M161.5 376.5v3M167.5 376.5v3M173.5 376.5v4M179.5 376.5v2M185.5 376.5v1M203.5 376.5v-1M209.5 376.5v-1M215.5 376.5v-2M221.5 376.5v-2M227.5 376.5v-3M233.5 376.5v-3M239.5 376.5v-3M245.5 376.5v-3M251.5 376.5v-3M257.5 376.5v-3M263.5 376.5v-2M269.5 376.5v-2M275.5 376.5v-1M281.5 376.5v-1M293.5 376.5v-1M299.5 376.5v-1M311.5 376.5v1M317.5 376.5v1M323.5 376.5v2M329.5 376.5v1M335.5 376.5v1M347.5 376.5v-1M353.5 376.5v-2M359.5 376.5v-2M365.5 376.5v-3M371.5 376.5v-3M377.5 376.5v-2M383.5 376.5v-2M389.5 376.5v-2M395.5 376.5v-2M401.5 376.5v-2M407.5 376.5v-2M413.5 376.5v-2M419.5 376.5v-2M425.5 376.5v-1M437.5 376.5v2M443.5 376.5v4M449.5 376.5v5M455.5 376.5v6M461.5 376.5v6M467.5 376.5v6M473.5 376.5v6M479.5 376.5v5M485.5 376.5v5M491.5 376.5v5M497.5 376.5v4M503.5 376.5v3M509.5 376.5v3M515.5 376.5v2M521.5 376.5v2M527.5 376.5v2M533.5 376.5v2M545.5 376.5v-2M551.5 376.5v-4M557.5 376.5v-4M563.5 376.5v-3M569.5 376.5v-1M581.5 376.5v2M587.5 376.5v3M593.5 376.5v3M599.5 376.5v3M605.5 376.5v2M611.5 376.5v3M617.5 376.5v4M623.5 376.5v4M629.5 376.5v2M635.5 376.5v1M647.5 376.5v-2M653.5 376.5v-3M659.5 376.5v-4M665.5 376.5v-5M671.5 376.5v-5M677.5 376.5v-5M683.5 376.5v-5M689.5 376.5v-5M695.5 376.5v-6M701.5 376.5v-7M707.5 376.5v-8M713.5 376.5v-9M719.5 376.5v-10M725.5 376.5v-10M731.5 376.5v-11M737.5 376.5v-11M743.5 376.5v-11M749.5 376.5v-11M755.5 376.5v-11M761.5 376.5v-10M767.5 376.5v-10M773.5 376.5v-9M779.5 376.5v-8M785.5 376.5v-6M791.5 376.5v-3M797.5 376.5v-2M803.5 376.5v-1M809.5 376.5v-1M821.5 376.5v1M827.5 376.5v3M833.5 376.5v5M839.5 376.5v5M845.5 376.5v5M851.5 376.5v6M857.5 376.5v6M863.5 376.5v5M869.5 376.5v5M875.5 376.5v4M881.5 376.5v4M887.5 376.5v4M893.5 376.5v4M899.5 376.5v4M905.5 376.5v3M911.5 376.5v2M923.5 376.5v-1M929.5 376.5v-2M935.5 376.5v-1M983.5 376.5v1M1001.5 376.5v-1M1007.5 376.5v-2M1013.5 376.5v-2M1019.5 376.5v-2M1025.5 376.5v-2M1031.5 376.5v-3M1037.5 376.5v-4M1043.5 376.5v-5M1049.5 376.5v-7M1055.5 376.5v-8M1061.5 376.5v-8M1067.5 376.5v-8M1073.5 376.5v-8M1079.5 376.5v-7M1085.5 376.5v-6M1091.5 376.5v-4M1097.5 376.5v-3M1103.5 376.5v-2M1109.5 376.5v-1M1121.5 376.5v1M1127.5 376.5v1M1133.5 376.5v1M1163.5 376.5v1M1169.5 376.5v2M1175.5 376.5v3M1181.5 376.5v3M1187.5 376.5v4M1193.5 376.5v4M1199.5 376.5v4M1205.5 376.5v5M1211.5 376.5v6M1217.5 376.5v6M1223.5 376.5v7M1229.5 376.5v6M1235.5 376.5v6M1241.5 376.5v5M1247.5 376.5v5M1253.5 376.5v4M1259.5 376.5v3M1271.5 376.5v-2" stroke="#f00" stroke-width="1" fill="none"/>
<polyline points="0,371 10,368.5 25,367.25 37.5,367.25 45,369.75 52.5,381 60,385.5 70,388 82.5,392.25 95,392.5 110,396 125,397.25 140,399.75 155,402.25 165,403.5 173.75,405.5 185,403 197.5,400.5 212.5,398.5 225,396 237.5,394.75 250,392.25 262.5,391.5 275,392.25 287.5,392.25 300,390.5 310,393 322.5,395 340,394 341,393.5 351,392.25 366,388 391,386.75 411,384 421,383.5 433.5,386 446,392.25 461,398 476,400.5 491,403 516,403 531,404 541,401.5 551,396.5 561,395 571,398 586,404 606,404.5 618.5,409 628.5,409 641,406 653.5,401.5 666,398 681,395.25 682,395.5 694.5,391.5 707,385.5 719.5,378 732,372.25 747,366 764.5,358.5 777,356 782,355.5 794.5,359.75 812,360.5 824.5,363 837,368.5 857,374 872,374.75 887,377.25 899.5,380.5 907,379.75 917,377.25 929.5,375.25 942,377.25 962,376.5 982,377.5 997,376 999.5,375.75 1000,375.5 1010,373.5 1027.5,372.25 1037.5,368.5 1050,361 1065,354 1080,351.5 1100,351.75 1112.5,353.5 1120,355.5 1160,356 1175,359.75 1200,364.75 1220,371.5 1235,374.75 1250,376.5 1260,376 1271.25,371.5" fill="none" stroke="#ff0" stroke-width="1" />
<polyline points="0,373 15,371 30,369.75 42.5,369.25 50,371.5 62.5,376 75,381.5 87.5,385.5 100,388.5 112.5,391.5 125,393.5 137.5,396 150,398 162.5,399.75 175,401.75 185,402.25 195,401 212.5,399.75 225,399 237.5,397.25 250,395.5 262.5,394 275,393 287.5,392.5 305,391.5 315,392.5 325,393.5 340,393.5 341,394 356,393 366,391 391,388.5 416,385.5 433.5,385.5 446,387.5 466,393 481,396 501,399.75 526,402 546,402 558.5,399 568.5,398.5 578.5,399.75 603.5,402.25 616,404 628.5,406.5 641,406.5 653.5,405 666,403 681,400.5 682,400.5 697,396.5 712,391.5 724.5,386 737,381.5 749.5,376 762,369.75 774.5,364.75 787,361.5 829.5,361 842,364.75 857,367.75 877,371.5 892,374 899.5,376.5 922,377 947,377 969.5,377 994.5,376.5 999.5,376.25 1000,376 1025,374.75 1037.5,372.25 1050,368.5 1062.5,363.5 1080,358 1100,354.5 1135,354.5 1140,355.5 1165,355.5 1185,358 1205,361 1225,366 1245,371 1260,373.5 1271.25,373.5" fill="none" stroke="#00f" stroke-width="1" />
<polyline points="0,465.5 5,463 13.75,461.5 37.5,461.5 45,467.5 52.5,482.5 60,493 67.5,497 80,496.25 92.5,494.5 100,496.25 112.5,501.75 125,505 132.5,505.5 142.5,503 152.5,505 162.5,507 172.5,507 180,504.5 186.25,501.25 192.5,495 200,490.5 212.5,488.75 225,488.75 237.5,488.75 247.5,483.75 256.25,479.5 261.25,482 268.75,492.5 275,502.5 281.25,505.5 287.5,507 296.25,502.5 302.5,499.5 312.5,500 322.5,500 332.5,495 340.5,491.5 341,491.25 353.5,488 361,482 371,475 378.5,475.75 388.5,476.25 398.5,479.5 406,481.25 414.75,477 421,478.25 427.25,485 433.5,496.25 438.5,503.75 446,508.25 453.5,509.5 463.5,509.25 473.5,507 481,506.25 488.5,508.75 501,511.25 516,512.5 528.5,511.25 534.75,509.5 541,505 547.25,496.25 553.5,487.5 558.5,483.25 563.5,484.5 569.75,493 576,501.75 582.25,507 588.5,510 603.5,510.5 618.5,510.5 627.25,508.25 634.75,502.5 643.5,497.5 651,492.5 658.5,487.5 666,480 673.5,474.5 681.5,472 682,472 689.5,469.5 697,461.25 707,454.5 719.5,452.5 725.75,450 734.5,452.5 744.5,455 754.5,452.5 767,451.25 779.5,454.5 789.5,461.25 797,470 804.5,473.75 812,473.25 821.5,473.25 827,480 833.25,490 839.5,499.5 847,502.5 854.5,502.5 860,505 867,501.25 874.5,497.5 882,499.5 889.5,501.25 897,503.75 905.25,500.75 911.5,492.5 918.25,481.25 924,471.25 930.75,467 935.75,469.5 942,476.25 948.25,483 953.25,485 959.5,482 969.5,478.75 978.25,478.75 985.75,481.25 994.5,486.25 999.5,484.5 1000,483.75 1006.25,476.25 1012.5,467.5 1020,462.5 1031.25,462 1040,457 1050,454.5 1062.5,451.25 1075,450 1087.5,450 1100,451.25 1112.5,455.5 1125,458.75 1135,457 1145,455 1155,457.5 1162.5,462.5 1172.5,471.25 1181.25,477.5 1190,483.75 1197.5,485.5 1205,490 1212.5,497.5 1220,502.5 1230,503.75 1237.5,507 1247.5,508.25 1260,507 1265,497.5 1271.25,485.5" fill="none" stroke="#f00" stroke-width="1" />
<polyline points="0,463.75 3.75,462 13.75,461.5 36.25,461.5 41.25,468.75 47.5,483.75 53.75,498.25 65,497 71.25,493 77.5,497.5 90,493 100,497.5 107.5,503 113.75,505 118.75,503.25 126.25,507 132.5,505.5 142.5,501.75 150,508.25 155,505.5 161.25,508 167.5,505.5 173.75,509.5 180,501.25 186.25,493.75 191.25,490.5 200,490 210,488.75 216.25,485.75 227.5,490.5 235,488.75 243.75,481.25 251.25,477 257.5,479.5 262.5,492.5 268.75,503.75 273.75,507 286.25,507 292.5,498.75 298.75,497.5 306.25,502.5 317.5,497.5 323.75,500 336.25,489.5 340.5,490.5 341,490.5 353.5,485 359.75,474.25 371,474.25 377.25,478.75 383.5,474.25 389.75,477 396,484.25 403.5,480 413.5,475 419.75,478 426,496.25 432.25,503 437.25,509.25 448.5,510.5 461,509.5 467.25,507.5 473.5,504.5 479.75,508 491,511.25 497.25,511.25 503.5,513.25 509.75,510.5 516,512.5 521.5,509.5 528,512 533.5,508.75 539.75,498.75 546,488 551.5,478.25 558.5,483.75 563.5,490.5 569.75,503.75 576,509.25 587.25,511.25 593.5,509.5 606,511.25 612.25,510.5 617.25,511.25 623.5,507 631,500 636,497.5 642.25,496.25 647.25,493 654.75,485.5 659.75,482.5 671,469.5 677.25,474.25 681.5,471.25 682,471.25 689.5,463.75 694.5,456.25 702,454.25 713.25,450 719.5,451.25 725,449.25 732,454.5 737.5,456.25 749.5,451.25 762,451.25 773.25,455 780,455 785.75,462.5 797,477.5 803.25,474.25 809.5,469.5 815.75,475.5 822,475.5 827,490 833.25,503.75 839.5,500.75 845.75,500.5 852,503 857.5,508.75 863.25,499.5 869.5,494.25 875.75,497.5 881.5,506.75 887.5,500 893.25,502.5 899,503.75 905.75,497.5 911.5,477 917,470 923.25,465.5 929,463.25 934.5,472.5 942,485 947.5,486.25 953.25,481.25 959.5,477.5 964.5,479.5 970.75,478.25 977,478.75 983.25,485 989.5,487.5 994.5,485 999.5,481 1000,480 1007.5,462.5 1013,459.5 1019.5,466.25 1027.5,459.5 1037.5,456.25 1048.75,452.5 1055,454.5 1067.5,449.25 1077.5,451.25 1098.75,451.25 1110,457.5 1120,460.75 1127.5,460 1133.75,454.5 1142.5,456.25 1152.5,457.5 1157.5,460 1163,470.75 1171.25,473 1176.25,476.25 1181.25,482.5 1188,486.25 1193.75,484.5 1200,490.5 1206.25,497.5 1212,503.25 1217.5,502 1223.75,505 1229.5,503.75 1235.75,509.5 1243.75,507.5 1258.75,506.25 1261.25,500 1265.5,477.5 1270.5,474.5" fill="none" stroke="#00f" stroke-width="1" />
<path d="M0 461.5H1273" stroke="#00f" stroke-width="1" fill="none"/>
<path d="M0 501.5H1273" stroke="#f00" stroke-width="1" fill="none"/>
<g stroke="#000" stroke-width="1" fill="none">
<path d="M1273.5 3V557"/><path d="M0 528.5H1331"/><path d="M0 318.5H1273"/>
<path d="M1274 21.5H1279"/>
<path d="M1274 58.5H1279"/>
<path d="M1274 96.5H1279"/>
<path d="M1274 134.5H1279"/>
<path d="M1274 172.5H1279"/>
<path d="M1274 210.5H1279"/>
<path d="M1274 252.5H1279"/>
<path d="M1274 289.5H1279"/>
<path d="M1274 350.5H1279"/>
<path d="M1274 391.5H1279"/>
<path d="M1274 448.5H1279"/>
<path d="M1274 485.5H1279"/>
<path d="M23.5 529V533"/>
<path d="M71.5 529V533"/>
<path d="M167.5 529V533"/>
<path d="M263.5 529V533"/>
<path d="M359.5 529V533"/>
<path d="M455.5 529V533"/>
<path d="M563.5 529V533"/>
<path d="M659.5 529V533"/>
<path d="M755.5 529V533"/>
<path d="M851.5 529V533"/>
<path d="M947.5 529V533"/>
<path d="M1043.5 521V536"/>
<path d="M1139.5 529V533"/>
<path d="M1235.5 529V533"/>
<rect x="1276.5" y="315.5" width="39" height="14" fill="#fff"/>
</g>
<path d="M1331 5.5H1321.5V17.5H1331" fill="#fff" stroke="#b8b8b8"/>
<path d="M1324 10H1331V11L1328 15Z" fill="#606060"/>
<path d="M1331 236.5H1321.5V248.5H1331" fill="#fff" stroke="#b8b8b8"/>
<path d="M1324 241H1331V242L1328 246Z" fill="#606060"/>
<path d="M1331 334.5H1321.5V346.5H1331" fill="#fff" stroke="#b8b8b8"/>
<path d="M1324 339H1331V340L1328 344Z" fill="#606060"/>
<path d="M1331 432.5H1321.5V444.5H1331" fill="#fff" stroke="#b8b8b8"/>
<path d="M1324 437H1331V438L1328 442Z" fill="#606060"/>
<g fill="#000">
<text x="3" y="16.4" class="t j">日経</text><text x="27" y="16.4" class="t">225mini 13/03( 5</text><text x="123" y="16.4" class="t j">分</text><text x="135" y="16.4" class="t">, 2013/01/15 - 2013/01/17 )</text>
<text x="316" y="16.4" class="t j">一目均衡表</text><text x="376" y="16.4" class="t">( 9, 26, 52 )</text>
<text x="475" y="16.4" class="t j">移動平均</text><text x="523" y="16.4" class="t">( Close, 20 )</text>
<text x="621" y="16.4" class="t j">移動平均</text><text x="669" y="16.4" class="t">( Close, 5 )</text>
<text x="761" y="16.4" class="t j">移動平均</text><text x="809" y="16.4" class="t">( Close, 75 )</text>
<text x="907" y="16.4" class="t j">移動平均</text><text x="955" y="16.4" class="t">( Close, 10 )</text>
<text x="1053" y="16.4" class="t j">移動平均</text><text x="1101" y="16.4" class="t">( Close, 40 )</text>
<text x="3" y="30.2" class="t j">移動平均</text><text x="51" y="30.2" class="t">( Close, 25 )</text>
<text x="149" y="30.2" class="t j">移動平均</text><text x="197" y="30.2" class="t">( Close, 75 )</text>
<text x="295" y="30.2" class="t j">移動平均</text><text x="343" y="30.2" class="t">( Close, 150 )</text>
<text x="2" y="247.5" class="t j">出来高</text>
<text x="2" y="344.8" class="t">MACD( 12, 26, 9 )</text>
<text x="2" y="443" class="t j">スロー・ストキャスティクス</text><text x="158" y="443" class="t">( 14, 3, 80, 20 )</text>
<text x="1281.6" y="26.5" class="t">10,860</text>
<text x="1281.6" y="63.5" class="t">10,785</text>
<text x="1281.6" y="101.5" class="t">10,710</text>
<text x="1281.6" y="139.5" class="t">10,635</text>
<text x="1281.6" y="177.5" class="t">10,560</text>
<text x="1281.6" y="215.5" class="t">10,485</text>
<text x="1281.6" y="257.5" class="t">375.00</text>
<text x="1281.6" y="294.5" class="t">165.00</text>
<text x="1281.6" y="355.5" class="t">25.00</text>
<text x="1281.6" y="396.5" class="t">-15.00</text>
<text x="1281.6" y="453.5" class="t">100.00</text>
<text x="1281.6" y="490.5" class="t">45.00</text>
<text x="22.4" y="547.5" class="t">02:40</text>
<text x="70.4" y="547.5" class="t">09:20</text>
<text x="166.4" y="547.5" class="t">10:40</text>
<text x="262.4" y="547.5" class="t">12:00</text>
<text x="358.4" y="547.5" class="t">13:20</text>
<text x="454.4" y="547.5" class="t">14:40</text>
<text x="562.4" y="547.5" class="t">17:20</text>
<text x="658.4" y="547.5" class="t">18:40</text>
<text x="754.4" y="547.5" class="t">20:00</text>
<text x="850.4" y="547.5" class="t">21:20</text>
<text x="946.4" y="547.5" class="t">22:40</text>
<text x="1042.4" y="547.5" class="t">01/17</text>
<text x="1138.4" y="547.5" class="t">01:20</text>
<text x="1234.4" y="547.5" class="t">02:40</text>
<text x="1284" y="326.3" class="t j" text-anchor="middle">×</text>
<text x="1296.5" y="326.3" class="t">100</text>
</g></svg></body></html>
